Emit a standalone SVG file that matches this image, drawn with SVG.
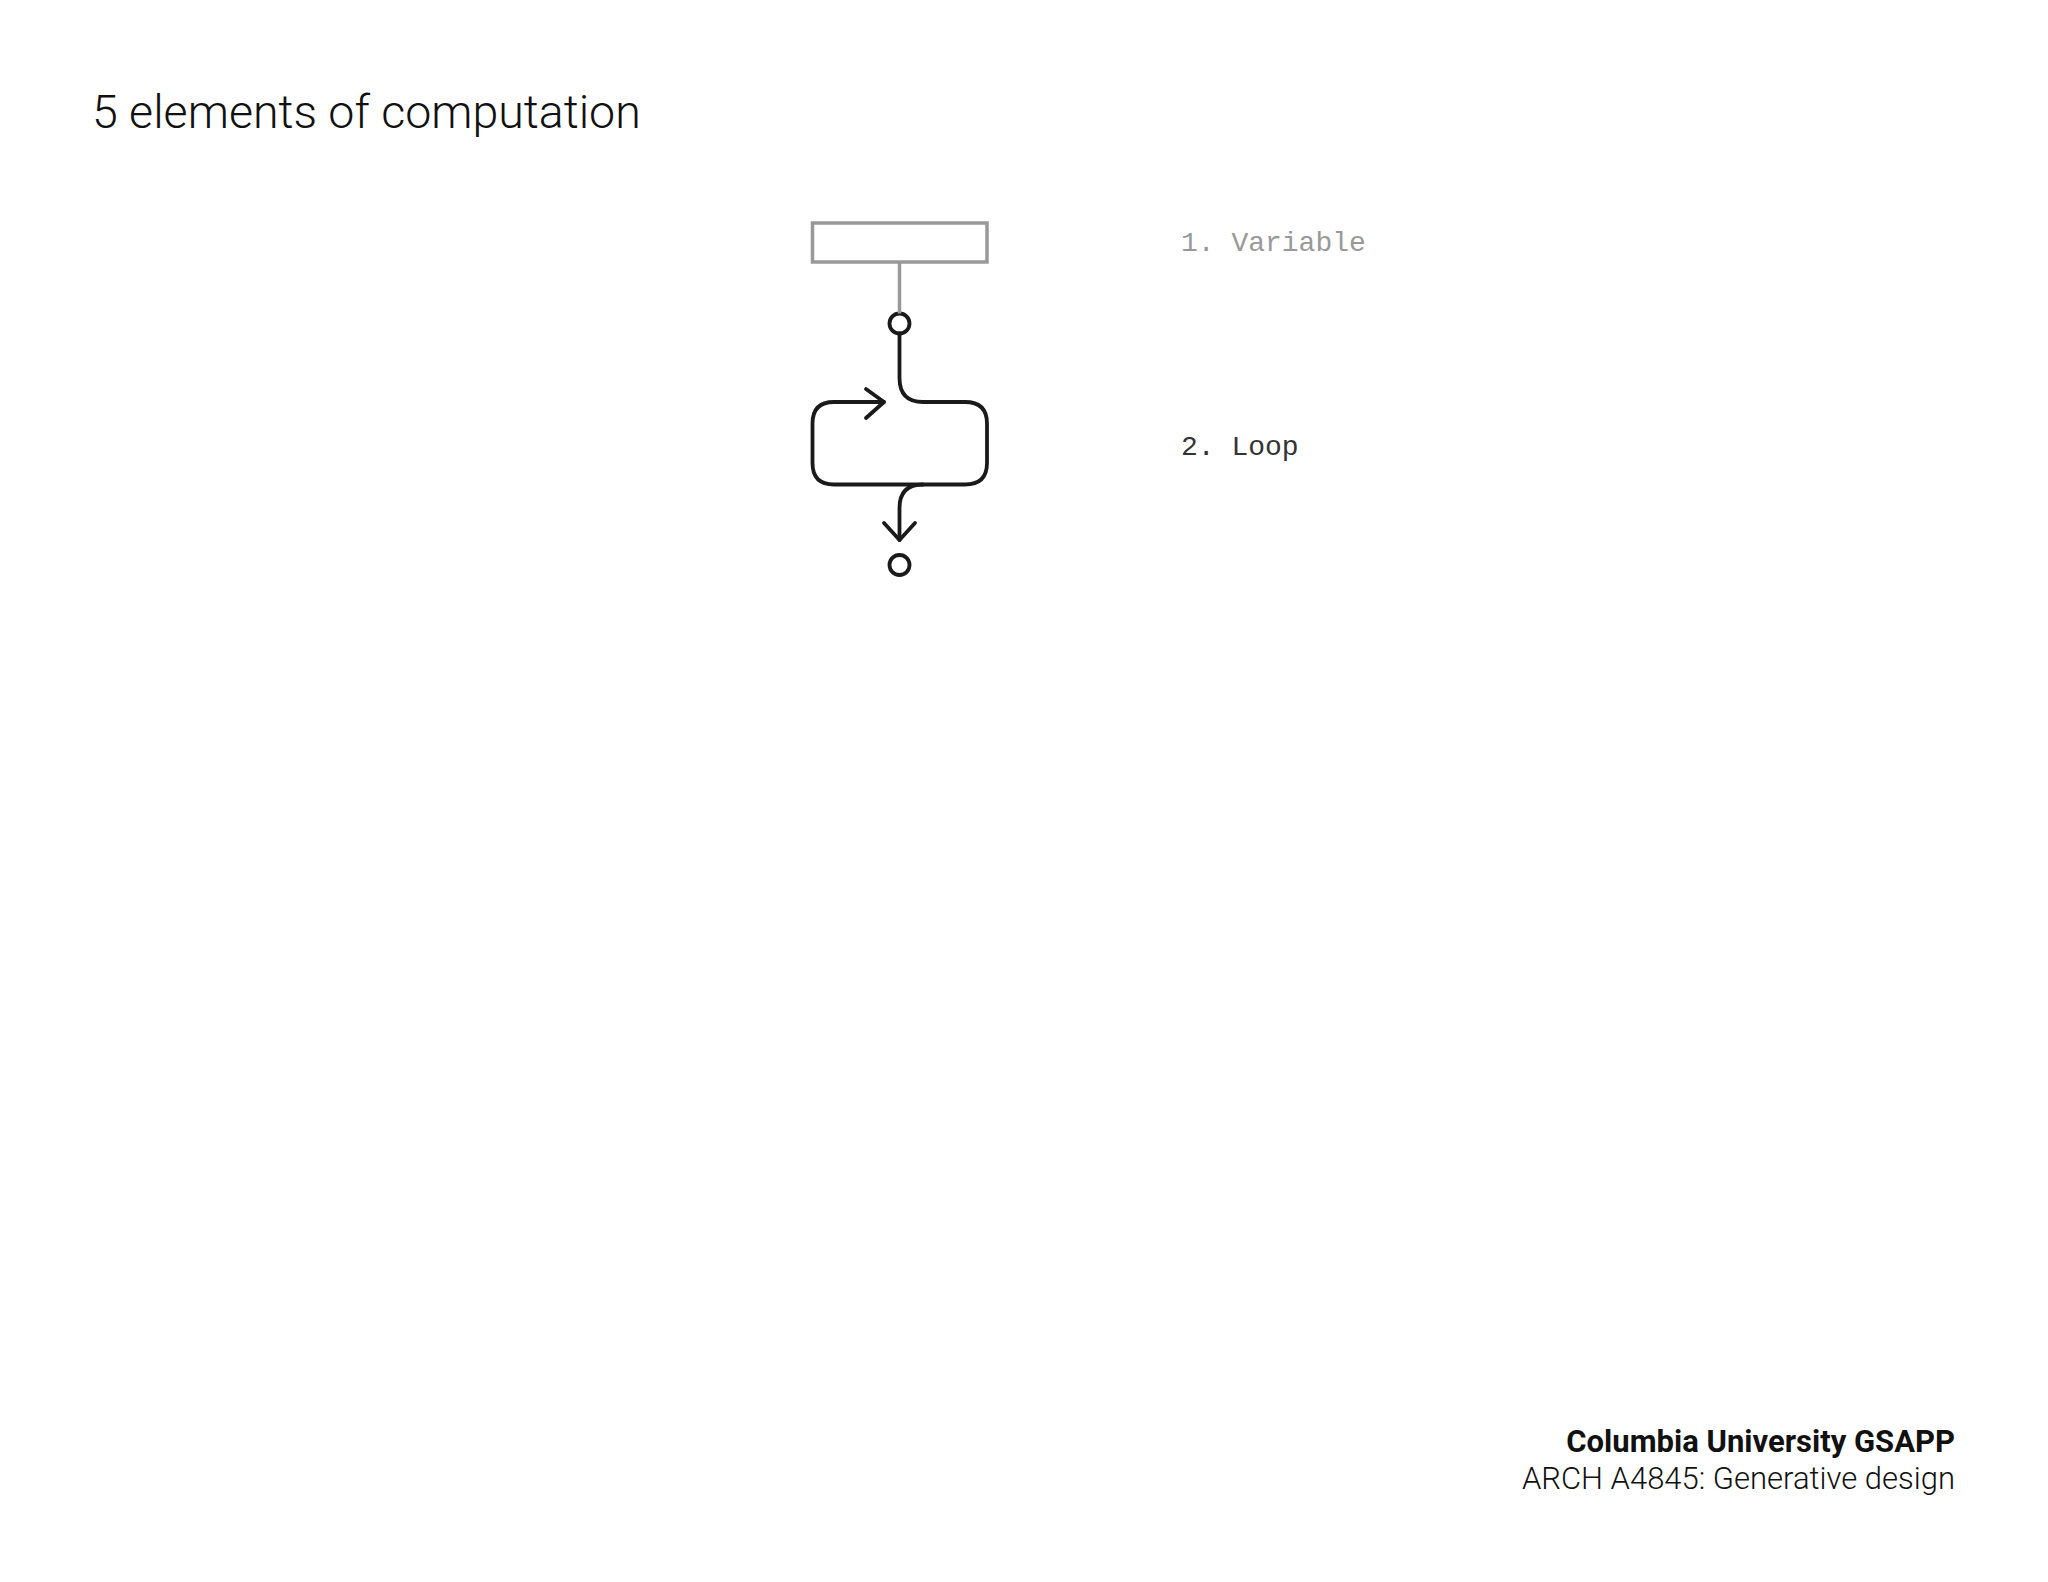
<svg xmlns="http://www.w3.org/2000/svg" width="2048" height="1582" viewBox="0 0 2048 1582">
<style>
.title{font-family:Roboto,"Liberation Sans",sans-serif;font-weight:300;font-size:46.5px;fill:#111}
.lbl{font-family:"Liberation Mono","DejaVu Sans Mono",monospace;font-size:28px}
.gray{stroke:#999;stroke-width:3.5;fill:none}
.blk{stroke:#1a1a1a;stroke-width:3.8;fill:none;stroke-linecap:round;stroke-linejoin:round}
.foot{font-family:Roboto,"Liberation Sans",sans-serif;font-size:31px;fill:#111;text-anchor:end}
</style>
<rect width="2048" height="1582" fill="#fff"/>
<text class="title" x="92" y="128">5 elements of computation</text>
<g id="variable">
<rect class="gray" x="812.5" y="223" width="174.5" height="39"/>
</g>
<g id="in-port"><circle class="blk" cx="899.5" cy="323.5" r="10"/></g>
<g id="loop">
<path class="blk" d="M884,402 L834,402 Q812.5,402 812.5,423.5 L812.5,463 Q812.5,484.5 834,484.5 L965,484.5 Q987,484.5 987,463 L987,423.5 Q987,402 965,402 L923,402 Q899.5,402 899.5,378 L899.5,333.5"/>
<path class="blk" d="M866,389 L884,402 L866,418"/>
</g>
<g id="out-port"><circle class="blk" cx="899.5" cy="565" r="10"/></g>
<g id="connectors">
<line class="gray" x1="899.5" y1="263" x2="899.5" y2="313.5"/>
<path class="blk" d="M923,484.5 Q899.5,484.5 899.5,508 L899.5,540"/>
<path class="blk" d="M884,523 L899.5,540 L915,523"/>
</g>
<text class="lbl" x="1181" y="251" fill="#999">1. Variable</text>
<text class="lbl" x="1181" y="455" fill="#333">2. Loop</text>
<text class="foot" x="1955" y="1452" font-weight="700" font-size="30.5">Columbia University GSAPP</text>
<text class="foot" x="1955" y="1489" font-weight="300">ARCH A4845: Generative design</text>
</svg>
